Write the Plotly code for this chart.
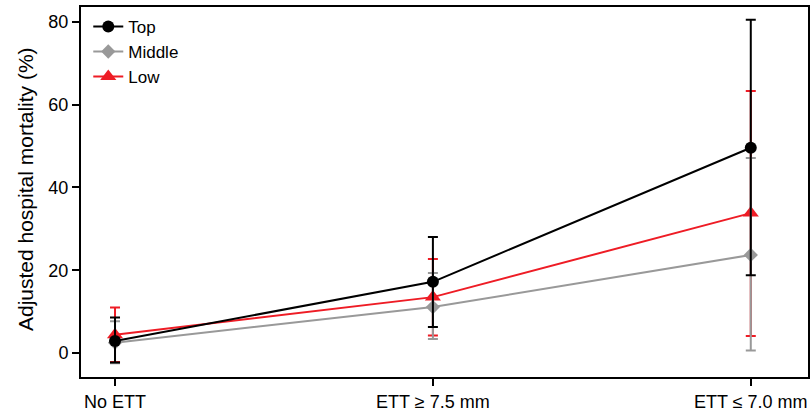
import plotly.graph_objects as go

categories = ["No ETT", "ETT \u2265 7.5 mm", "ETT \u2264 7.0 mm"]
xpos = [0, 1, 2]

top_vals = [2.9, 17.2, 49.6]
top_hi = [8.6, 28.0, 80.5]
top_lo = [-2.3, 6.3, 18.8]

mid_vals = [2.5, 11.1, 23.7]
mid_hi = [7.7, 19.3, 47.1]
mid_lo = [-2.5, 3.4, 0.6]

low_vals = [4.4, 13.5, 33.8]
low_hi = [11.0, 22.7, 63.3]
low_lo = [-2.2, 4.2, 4.1]

y_title = "Adjusted hospital mortality (%)"

series = [
    ("Top", top_vals, top_hi, top_lo, "#000000", "circle", 12),
    ("Middle", mid_vals, mid_hi, mid_lo, "#999999", "diamond", 11),
    ("Low", low_vals, low_hi, low_lo, "#ee1c25", "triangle-up", 14),
]

fig = go.Figure()
for name, v, hi, lo, col, sym, sz in reversed(series):
    fig.add_trace(go.Scatter(
        x=xpos, y=v, name=name, mode="lines+markers",
        line=dict(color=col, width=2),
        marker=dict(color=col, symbol=sym, size=sz),
        error_y=dict(type="data", symmetric=False,
                     array=[h - a for h, a in zip(hi, v)],
                     arrayminus=[a - l for a, l in zip(v, lo)],
                     color=col, thickness=2, width=5),
    ))

fig.update_layout(
    width=810, height=412,
    margin=dict(l=81, r=2, t=7, b=35, autoexpand=False),
    paper_bgcolor="white", plot_bgcolor="white",
    font=dict(family="Liberation Sans, Arial, sans-serif", size=16, color="black"),
    showlegend=True,
    legend=dict(x=0.01, y=0.995, xanchor="left", yanchor="top",
                traceorder="reversed", bgcolor="rgba(0,0,0,0)",
                font=dict(size=17), itemwidth=30, tracegroupgap=0),
    xaxis=dict(range=[-0.107, 2.18], tickvals=xpos, ticktext=categories,
               showgrid=False, zeroline=False, showline=True, linecolor="black",
               linewidth=2, mirror=True, ticks="outside", ticklen=7, tickwidth=2,
               tickcolor="black", tickfont=dict(size=18), automargin=False),
    yaxis=dict(range=[-5.8, 83.6], tickvals=[0, 20, 40, 60, 80],
               showgrid=False, zeroline=False, showline=True, linecolor="black",
               linewidth=2, mirror=True, ticks="outside", ticklen=7, tickwidth=2,
               tickcolor="black", tickfont=dict(size=18), automargin=False),
    annotations=[dict(text=y_title, xref="paper", yref="paper",
                      x=-0.077, y=0.508, xanchor="center", yanchor="middle",
                      textangle=-90, showarrow=False, font=dict(size=21))],
)

fig.write_html("out.html", config={"displayModeBar": False},
               post_script="document.body.style.margin='0';document.body.style.overflow='hidden';")
